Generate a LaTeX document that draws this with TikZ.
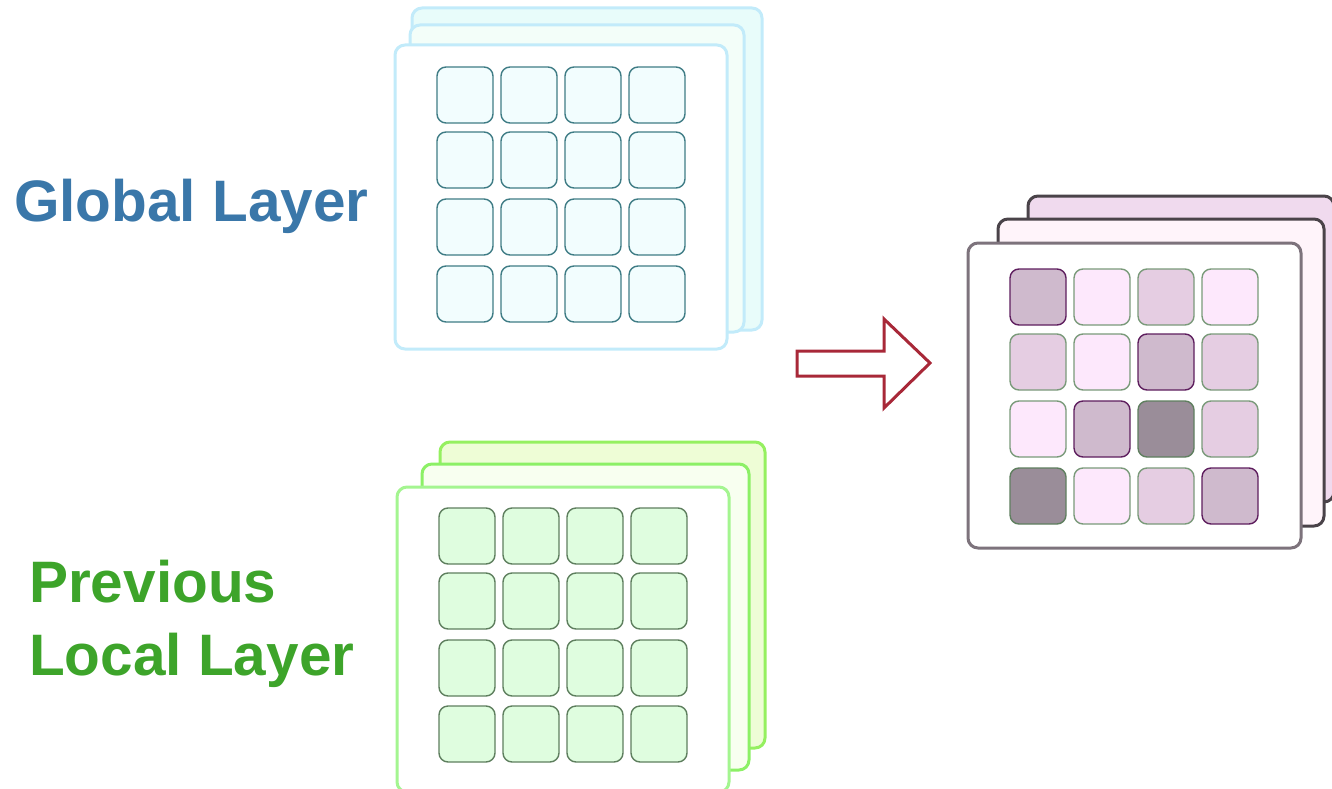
\documentclass[tikz,border=0pt]{standalone}
\usepackage{fontspec}
\setmainfont{Liberation Sans}
\definecolor{gtext}{HTML}{3A77A9}
\definecolor{ltext}{HTML}{3DA42A}
\definecolor{gcardline}{HTML}{C2EBFA}
\definecolor{gbackfill}{HTML}{E8FCFA}
\definecolor{gmidfill}{HTML}{F3FEF9}
\definecolor{gcellfill}{HTML}{F2FDFE}
\definecolor{gcellline}{HTML}{3F7C85}
\definecolor{lbackline}{HTML}{95F060}
\definecolor{lmidline}{HTML}{8CF066}
\definecolor{lfrontline}{HTML}{A4F590}
\definecolor{lbackfill}{HTML}{EEFDD6}
\definecolor{lmidfill}{HTML}{F8FFF0}
\definecolor{lcellfill}{HTML}{DFFDDF}
\definecolor{lcellline}{HTML}{5E7F5E}
\definecolor{pbackfill}{HTML}{F0DAEE}
\definecolor{pmidfill}{HTML}{FFF4FA}
\definecolor{pdarkline}{HTML}{4A4349}
\definecolor{pfrontline}{HTML}{7D737C}
\definecolor{pL}{HTML}{FDE8FC}
\definecolor{pM}{HTML}{E5CDE2}
\definecolor{pD}{HTML}{CFBACD}
\definecolor{pX}{HTML}{9A8D99}
\definecolor{pgline}{HTML}{7A9A7A}
\definecolor{pxline}{HTML}{5F7F5F}
\definecolor{ppline}{HTML}{5E1E5E}
\definecolor{arrowred}{HTML}{A82838}
\tikzset{
  card/.style={draw, rounded corners=10pt, line width=3pt, anchor=north west,
    inner sep=0pt, outer sep=0pt},
  cell/.style={draw, rounded corners=9pt, line width=1.4pt, anchor=north west,
    inner sep=0pt, outer sep=0pt, minimum width=56pt, minimum height=56pt},
  gcell/.style={cell, draw=gcellline, fill=gcellfill},
  lcell/.style={cell, draw=lcellline, fill=lcellfill},
  cellL/.style={cell, draw=pgline, fill=pL},
  cellM/.style={cell, draw=pgline, fill=pM},
  cellD/.style={cell, draw=ppline, fill=pD},
  cellX/.style={cell, draw=pxline, fill=pX},
  label/.style={anchor=base west, inner sep=0pt, font=\fontsize{58.5}{73}\selectfont\bfseries},
}
\begin{document}
\begin{tikzpicture}[x=1pt,y=-1pt]
\useasboundingbox (0,0) rectangle (1332,789);
\clip (0,0) rectangle (1332,789);
% labels
\node[label, text=gtext] (globallabel) at (14,221) {Global Layer};
\node[label, text=ltext] (prevlabel) at (29,602) {Previous};
\node[label, text=ltext] (locallabel) at (29,675) {Local Layer};
% global stack
\node[card, draw=gcardline, fill=gbackfill, minimum width=350pt, minimum height=322pt] (gback) at (412,8) {};
\node[card, draw=gcardline, fill=gmidfill, minimum width=334pt, minimum height=307pt] (gmid) at (410,25) {};
\node[card, draw=gcardline, fill=white, minimum width=332pt, minimum height=304pt] (gfront) at (395,45) {};
\foreach \y [count=\r] in {67,132,199,266}
  \foreach \x [count=\c] in {437,501,565,629}
    \node[gcell] (g-\r-\c) at (\x,\y) {};
% local stack
\node[card, draw=lbackline, fill=lbackfill, minimum width=325pt, minimum height=306pt] (lback) at (440,442) {};
\node[card, draw=lmidline, fill=lmidfill, minimum width=327pt, minimum height=306pt] (lmid) at (422,464) {};
\node[card, draw=lfrontline, fill=white, minimum width=332pt, minimum height=305pt] (lfront) at (397,487) {};
\foreach \y [count=\r] in {508,573,640,706}
  \foreach \x [count=\c] in {439,503,567,631}
    \node[lcell] (l-\r-\c) at (\x,\y) {};
% output stack
\node[card, draw=pdarkline, fill=pbackfill, minimum width=306pt, minimum height=306pt] (pback) at (1028,196) {};
\node[card, draw=pdarkline, fill=pmidfill, minimum width=326pt, minimum height=307pt] (pmid) at (998,219) {};
\node[card, draw=pfrontline, fill=white, minimum width=333pt, minimum height=305pt] (pfront) at (968,243) {};
\foreach \y/\a/\b/\cc/\d [count=\r] in {269/D/L/M/L, 334/M/L/D/M, 401/L/D/X/M, 468/X/L/M/D} {
  \node[cell\a] (p-\r-1) at (1010,\y) {};
  \node[cell\b] (p-\r-2) at (1074,\y) {};
  \node[cell\cc] (p-\r-3) at (1138,\y) {};
  \node[cell\d] (p-\r-4) at (1202,\y) {};
}
% block arrow
\draw[arrowred, line width=3pt, fill=white, line join=miter]
  (797,351) -- (884,351) -- (884,319) -- (930,363) -- (884,408) -- (884,376) -- (797,376) -- cycle;
\end{tikzpicture}
\end{document}
